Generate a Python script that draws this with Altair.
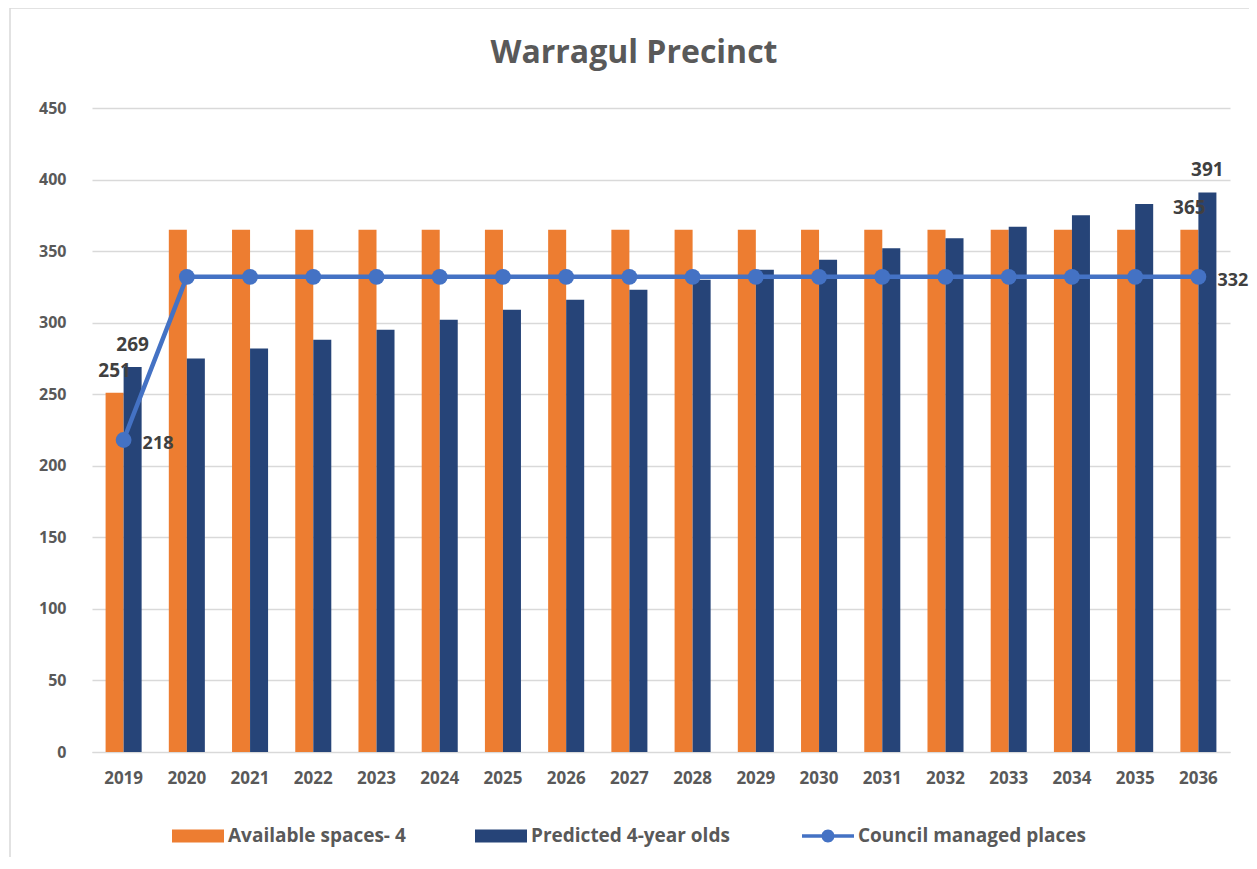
import altair as alt
import pandas as pd

# ---- data ----
years = [str(y) for y in range(2019, 2037)]
available = [251] + [365] * 17
predicted = [269, 275, 282, 288, 295, 302, 309, 316, 323, 330, 337, 344, 352, 359, 367, 375, 383, 391]
council = [218] + [332] * 17
y_ticks = [0, 50, 100, 150, 200, 250, 300, 350, 400, 450]
TITLE = "Warragul Precinct"

S_AV = "Available spaces- 4"
S_PR = "Predicted 4-year olds"
S_CO = "Council managed places"

ORANGE = "#ED7D31"
NAVY = "#264478"
BLUE = "#4472C4"
GRAY = "#595959"
DARK = "#404040"
GRID = "#D9D9D9"
FONT = "Open Sans"

bars_df = pd.DataFrame({
    "year": years * 2,
    "series": [S_AV] * len(years) + [S_PR] * len(years),
    "value": available + predicted,
})
line_df = pd.DataFrame({"year": years, "series": S_CO, "value": council})
ends = [years[0], years[-1]]
bar_lab = bars_df[bars_df["year"].isin(ends)]
line_lab = line_df[line_df["year"].isin(ends)]

x = alt.X(
    "year:N", sort=years, title=None,
    scale=alt.Scale(paddingInner=0.43, paddingOuter=0.215),
    axis=alt.Axis(labelFont=FONT, labelFontSize=17, labelFontWeight="bold",
                  labelColor=GRAY, labelPadding=18, ticks=False,
                  domainColor=GRID, domainWidth=1, labelAngle=0, grid=False),
)
y = alt.Y(
    "value:Q", title=None, scale=alt.Scale(domain=[0, 450], nice=False),
    axis=alt.Axis(values=y_ticks, labelFont=FONT, labelFontSize=16, labelFontWeight="bold",
                  labelColor=GRAY, labelPadding=26, ticks=False, domain=False,
                  gridColor=GRID, gridWidth=1.3),
)
xoff = alt.XOffset("series:N", sort=[S_AV, S_PR], scale=alt.Scale(paddingInner=0, paddingOuter=0))

bars = alt.Chart(bars_df).mark_bar().encode(
    x=x, y=y, xOffset=xoff,
    color=alt.Color(
        "series:N",
        scale=alt.Scale(domain=[S_AV, S_PR], range=[ORANGE, NAVY]),
        legend=alt.Legend(
            orient="none", legendX=93, legendY=715, direction="horizontal", title=None,
            symbolType="M-2,-0.5H2V0.5H-2Z", symbolSize=676, symbolStrokeWidth=0,
            labelOffset=17, labelFont=FONT, labelFontSize=19, labelColor=GRAY,
            labelFontWeight="bold", columnPadding=69, padding=0, labelLimit=400,
        ),
    ),
)

line = alt.Chart(line_df).mark_line(color=BLUE, strokeWidth=4.5).encode(x=x, y=y)
points = alt.Chart(line_df).mark_point(filled=True, size=250, opacity=1).encode(
    x=x, y=y,
    color=alt.Color(
        "series:N",
        scale=alt.Scale(domain=[S_CO], range=[BLUE]),
        legend=alt.Legend(
            orient="none", legendX=723, legendY=715, direction="horizontal", title=None,
            symbolType="M-2,-0.13H2V0.13H-2Z M0.5,0A0.5,0.5,0,1,1,-0.5,0A0.5,0.5,0,1,1,0.5,0Z",
            symbolSize=676, symbolStrokeWidth=0,
            labelOffset=17, labelFont=FONT, labelFontSize=19, labelColor=GRAY,
            labelFontWeight="bold", padding=0, labelLimit=400,
        ),
    ),
)

bar_text = alt.Chart(bar_lab).mark_text(
    dy=-22, font=FONT, fontSize=19, fontWeight="bold", color=DARK
).encode(x=x, y=y, xOffset=xoff, text="value:Q")

line_text = alt.Chart(line_lab).mark_text(
    align="left", dx=19, dy=4, font=FONT, fontSize=18, fontWeight="bold", color=DARK
).encode(x=x, y=y, text="value:Q")

frame_df = pd.DataFrame({"title": [TITLE]})
border = alt.Chart(frame_df).mark_rect(
    fill=None, stroke=GRID, strokeWidth=1.5
).encode(x=alt.value(-82), x2=alt.value(1190), y=alt.value(-100), y2=alt.value(800))

title = alt.Chart(frame_df).mark_text(
    font=FONT, fontSize=32, fontWeight="bold", color=GRAY, align="center", baseline="alphabetic"
).encode(x=alt.value(542), y=alt.value(-45), text="title:N")

chart = alt.layer(border, title, bars, line, points, bar_text, line_text).resolve_scale(
    color="independent"
).properties(
    width=1138, height=644,
    autosize=alt.AutoSizeParams(type="none"),
    padding={"left": 84, "top": 100, "right": 19, "bottom": 105},
).configure_view(stroke=None)

chart.save("out.html", embed_options={"renderer": "svg", "actions": False})
